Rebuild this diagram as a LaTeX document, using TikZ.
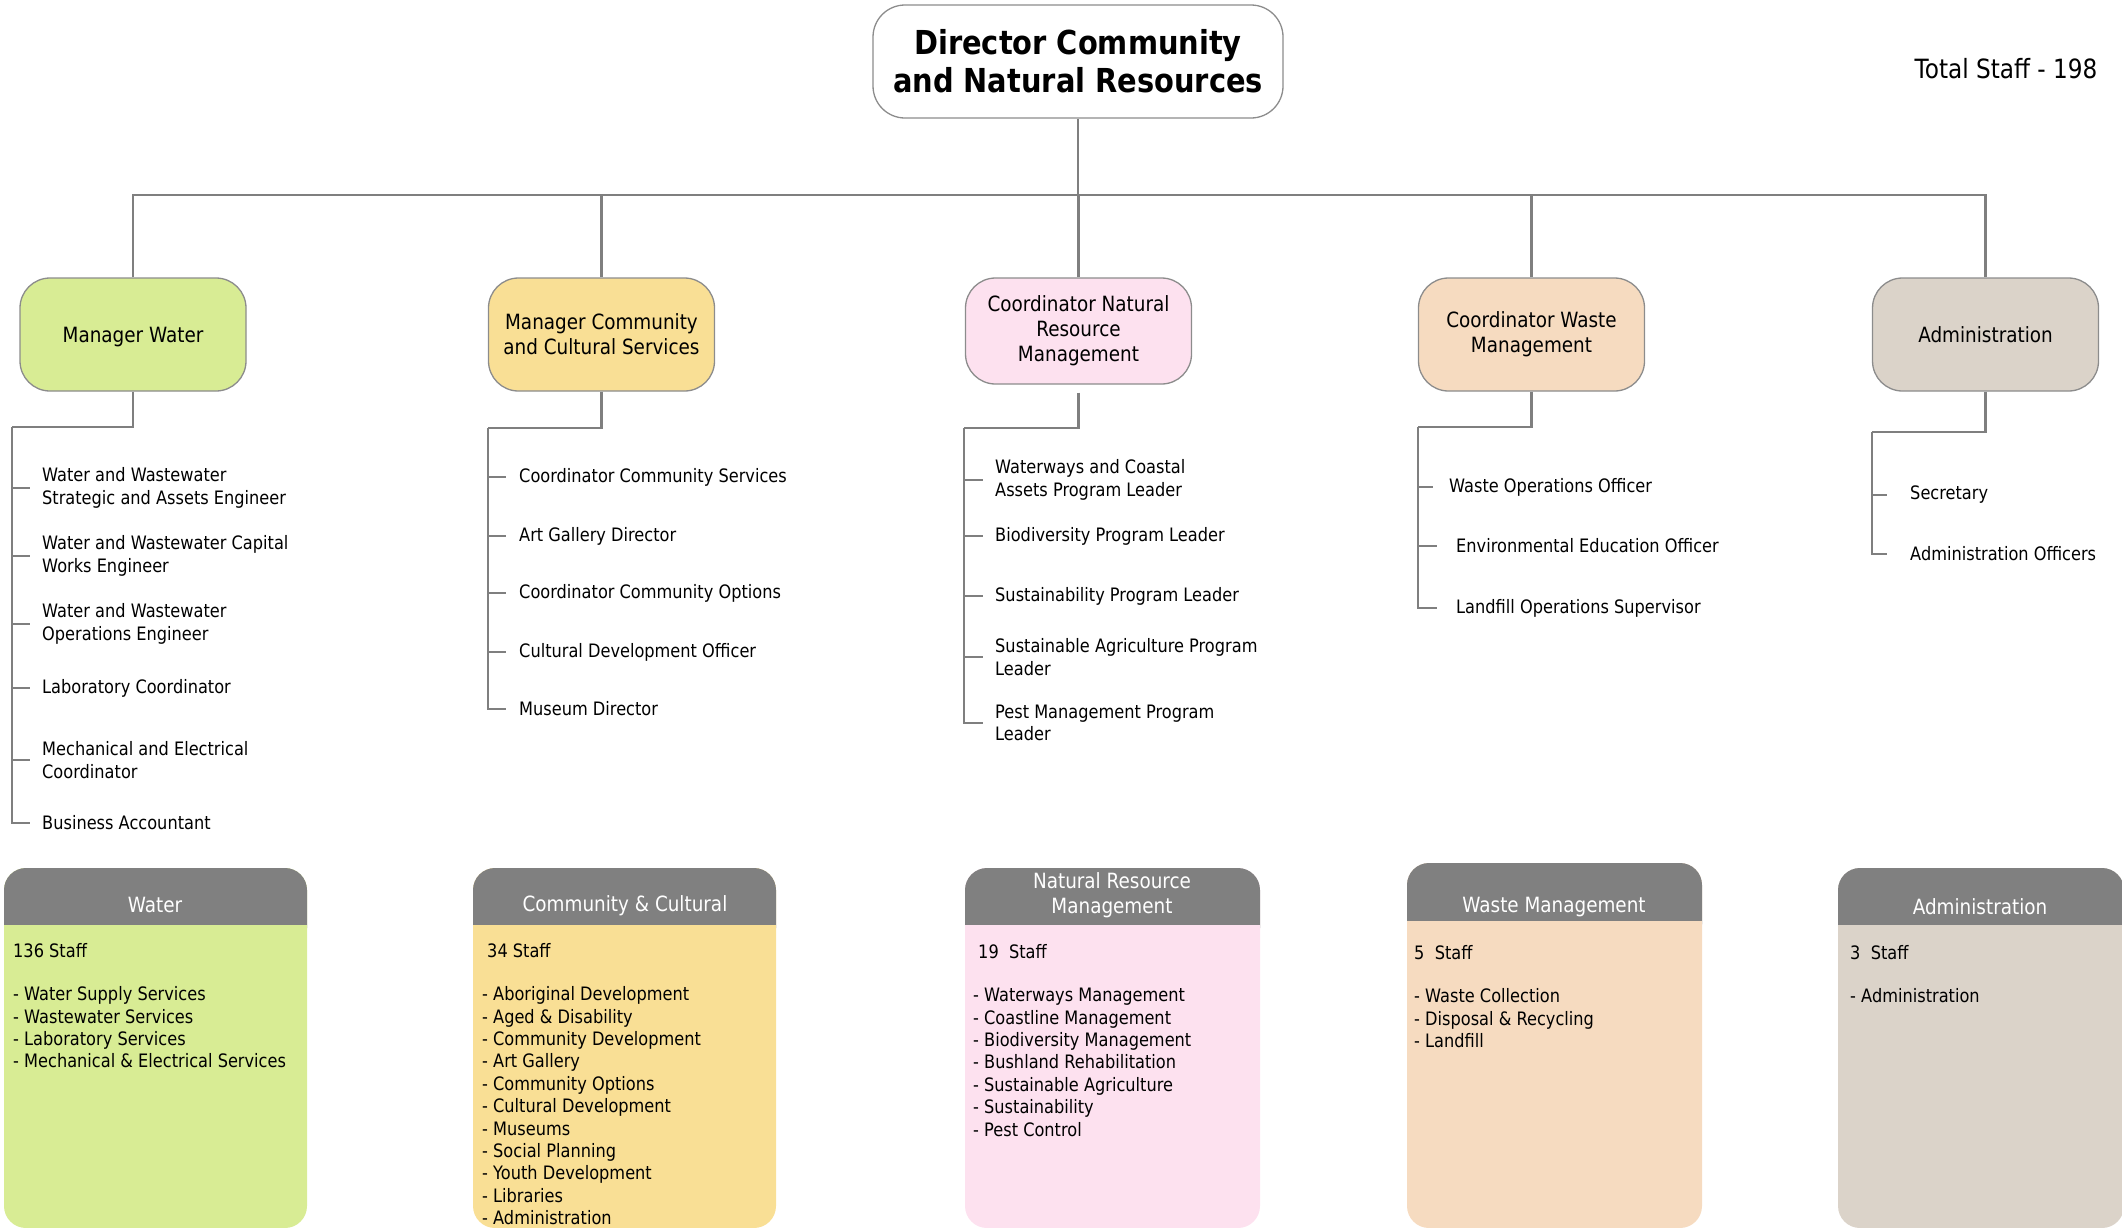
\documentclass[tikz,border=0pt]{standalone}
\usepackage{fontspec}
\setmainfont{DejaVu Sans}[FakeStretch=0.875]
\usepackage{tikz}

\definecolor{linegray}{HTML}{7F7F7F}
\definecolor{boxgray}{HTML}{8C8C8C}
\definecolor{hdrgray}{HTML}{808080}
\definecolor{waterfill}{HTML}{D8EC94}
\definecolor{commfill}{HTML}{F9DF95}
\definecolor{nrmfill}{HTML}{FDE1EF}
\definecolor{wastefill}{HTML}{F6DBC0}
\definecolor{adminfill}{HTML}{DBD3C9}

\begin{document}
\begin{tikzpicture}[x=1pt,y=-1pt,
  conn/.style={draw=linegray,line width=2.2pt},
  mgr/.style={draw=boxgray,line width=1.3pt,rounded corners=30pt,minimum width=226pt,
    minimum height=113pt,align=center,font=\fontsize{21}{25}\selectfont},
  item/.style={anchor=west,inner sep=0pt,align=left,font=\fontsize{18.5}{22.5}\selectfont},
  hdr/.style={text=white,align=center,font=\fontsize{21}{25}\selectfont},
  body/.style={anchor=north west,inner sep=0pt,align=left,font=\fontsize{18.5}{22.4}\selectfont}]
\useasboundingbox (0,0) rectangle (2122,1227);

% director and total
\node[draw=boxgray,line width=1.3pt,rounded corners=32pt,minimum width=410pt,minimum height=113pt,
  align=center,font=\bfseries\fontsize{33}{38}\selectfont] (dir) at (1078,61.5)
  {Director Community\\and Natural Resources};
\node[font=\fontsize{26.5}{30}\selectfont] (total) at (2006,69) {Total Staff - 198};

% managers
\node[mgr,fill=waterfill,text depth=0pt] (mwater) at (133,334.5) {Manager Water};
\node[mgr,fill=commfill] (mcomm) at (601.5,334.5) {Manager Community\\and Cultural Services};
\node[mgr,fill=nrmfill,minimum height=106pt] (mnrm) at (1078.5,331) {Coordinator Natural\\Resource\\Management};
\node[mgr,fill=wastefill] (mwaste) at (1531.5,334.5) {Coordinator Waste\\Management};
\node[mgr,fill=adminfill] (madmin) at (1985.5,334.5) {Administration};

\coordinate (bus) at (1078,195);
\draw[conn] (dir.south) -- (bus);
\foreach \m in {mwater,mcomm,mnrm,mwaste,madmin}
  \draw[conn] (\m.north) |- (bus);

% water staff
\node[item] (w1) at (42,488) {Water and Wastewater\\Strategic and Assets Engineer};
\node[item] (w2) at (42,556) {Water and Wastewater Capital\\Works Engineer};
\node[item] (w3) at (42,624) {Water and Wastewater\\Operations Engineer};
\node[item] (w4) at (42,688) {Laboratory Coordinator};
\node[item] (w5) at (42,760) {Mechanical and Electrical\\Coordinator};
\node[item] (w6) at (42,823) {Business Accountant};
\coordinate (wj) at (12,427);
\draw[conn] (mwater.south) |- (wj);
\foreach \i in {1,...,6}
  \draw[conn] (wj) |- ([xshift=-12pt]w\i.west);

% community staff
\node[item] (c1) at (519,477) {Coordinator Community Services};
\node[item] (c2) at (519,536) {Art Gallery Director};
\node[item] (c3) at (519,593) {Coordinator Community Options};
\node[item] (c4) at (519,652) {Cultural Development Officer};
\node[item] (c5) at (519,709) {Museum Director};
\coordinate (cj) at (488,428);
\draw[conn] (mcomm.south) |- (cj);
\foreach \i in {1,...,5}
  \draw[conn] (cj) |- ([xshift=-13pt]c\i.west);

% natural resource staff
\node[item] (n1) at (995,480) {Waterways and Coastal\\Assets Program Leader};
\node[item] (n2) at (995,536) {Biodiversity Program Leader};
\node[item] (n3) at (995,596) {Sustainability Program Leader};
\node[item] (n4) at (995,657) {Sustainable Agriculture Program\\Leader};
\node[item] (n5) at (995,723) {Pest Management Program\\Leader};
\coordinate (nj) at (964,428);
\draw[conn] ([yshift=-8pt]mnrm.south) |- (nj);
\foreach \i in {1,...,5}
  \draw[conn] (nj) |- ([xshift=-12pt]n\i.west);

% waste staff
\node[item] (s1) at (1449,487) {Waste Operations Officer};
\node[item] (s2) at (1456,546) {Environmental Education Officer};
\node[item] (s3) at (1456,608) {Landfill Operations Supervisor};
\coordinate (sj) at (1418,427);
\draw[conn] (mwaste.south) |- (sj);
\draw[conn] (sj) |- ([xshift=-16pt]s1.west);
\draw[conn] (sj) |- ([xshift=-19pt]s2.west);
\draw[conn] (sj) |- ([xshift=-19pt]s3.west);

% admin staff
\node[item] (a1) at (1910,495) {Secretary};
\node[item] (a2) at (1910,554) {Administration Officers};
\coordinate (aj) at (1872,432);
\draw[conn] (madmin.south) |- (aj);
\foreach \i in {1,2}
  \draw[conn] (aj) |- ([xshift=-23pt]a\i.west);

% section panels
\foreach \xa/\xb/\ya/\yb/\col in {4/307/868/925/waterfill,473/776/868/925/commfill,
    965/1260/868/925/nrmfill,1407/1702/863/921/wastefill,1838/2124/868/925/adminfill}{
  \fill[\col,rounded corners=22pt] (\xa,\ya) rectangle (\xb,1228);
  \fill[hdrgray,rounded corners=22pt] (\xa,\ya) rectangle (\xb,\yb+25);
  \fill[\col] (\xa,\yb) rectangle (\xb,\yb+30);
}
\node[hdr] (hwater) at (155,905) {Water};
\node[hdr] (hcomm) at (625,906) {Community \& Cultural};
\node[hdr] (hnrm) at (1112,895) {Natural Resource\\Management};
\node[hdr] (hwaste) at (1554,907) {Waste Management};
\node[hdr] (hadmin) at (1980,907) {Administration};

\node[body] (pwater) at (13,943) {136 Staff\\[21pt]- Water Supply Services\\- Wastewater Services\\
  - Laboratory Services\\- Mechanical \& Electrical Services};
\node[body] (pcomm) at (482,943) {\hspace*{5pt}34 Staff\\[21pt]- Aboriginal Development\\
  - Aged \& Disability\\- Community Development\\- Art Gallery\\- Community Options\\
  - Cultural Development\\- Museums\\- Social Planning\\- Youth Development\\- Libraries\\
  - Administration};
\node[body] (pnrm) at (973,944) {\hspace*{5pt}19\ \ Staff\\[21pt]- Waterways Management\\
  - Coastline Management\\- Biodiversity Management\\- Bushland Rehabilitation\\
  - Sustainable Agriculture\\- Sustainability\\- Pest Control};
\node[body] (pwaste) at (1414,945) {5\ \ Staff\\[21pt]- Waste Collection\\
  - Disposal \& Recycling\\- Landfill};
\node[body] (padmin) at (1850,945) {3\ \ Staff\\[21pt]- Administration};
\end{tikzpicture}
\end{document}
